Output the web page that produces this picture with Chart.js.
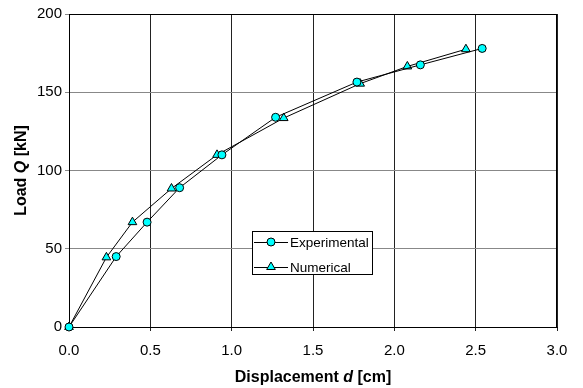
<!DOCTYPE html>
<html>
<head>
<meta charset="utf-8">
<script src="https://cdn.jsdelivr.net/npm/chart.js@4.4.1/dist/chart.umd.min.js"></script>
<style>
  html, body { margin: 0; padding: 0; background: #fff; }
  #wrap { width: 583px; height: 388px; }
</style>
</head>
<body>
<div id="wrap"><canvas id="loadChart"></canvas></div>
<script>
// load-displacement curves (d in cm, Q in kN)
const expDisp = [0, 0.29, 0.48, 0.68, 0.94, 1.27, 1.77, 2.16, 2.54];
const expLoad = [0, 45, 67, 89, 110, 134, 156.5, 167.5, 178];
const numDisp = [0, 0.23, 0.39, 0.63, 0.91, 1.32, 1.79, 2.08, 2.44];
const numLoad = [0, 44.5, 67, 88.5, 110, 133.5, 155.5, 166.5, 177.5];

const xTicks = [0, 0.5, 1.0, 1.5, 2.0, 2.5, 3.0];
const yTicks = [0, 50, 100, 150, 200];

const FONT = '"Liberation Sans", Arial, sans-serif';

function toPoints(xs, ys) {
  return xs.map((x, i) => ({ x: x, y: ys[i] }));
}

function drawParts(ctx, parts, cx, cy) {
  let total = 0;
  parts.forEach(p => { ctx.font = p.f; total += ctx.measureText(p.t).width; });
  let x = cx - total / 2;
  ctx.textAlign = 'left';
  parts.forEach(p => {
    ctx.font = p.f;
    ctx.fillText(p.t, x, cy);
    x += ctx.measureText(p.t).width;
  });
}

// frame behind the series, titles and the boxed legend on top
const decorations = {
  id: 'decorations',
  beforeDatasetsDraw(chart) {
    const ctx = chart.ctx;
    const area = chart.chartArea;
    ctx.save();
    ctx.strokeStyle = '#000';
    ctx.lineWidth = 1;
    ctx.strokeRect(area.left + 0.5, area.top + 0.5, area.right - area.left - 1, area.bottom - area.top);
    ctx.restore();
  },
  afterDraw(chart) {
    const ctx = chart.ctx;
    const area = chart.chartArea;
    ctx.save();

    // x title
    ctx.fillStyle = '#000';
    ctx.textBaseline = 'middle';
    drawParts(ctx, [
      { t: 'Displacement ', f: 'bold 16px ' + FONT },
      { t: 'd', f: 'italic bold 16px ' + FONT },
      { t: ' [cm]', f: 'bold 16px ' + FONT }
    ], (area.left + area.right) / 2, 378);

    // y title
    ctx.save();
    ctx.translate(22, (area.top + area.bottom) / 2);
    ctx.rotate(-Math.PI / 2);
    drawParts(ctx, [
      { t: 'Load ', f: 'bold 16px ' + FONT },
      { t: 'Q', f: 'italic bold 16px ' + FONT },
      { t: ' [kN]', f: 'bold 16px ' + FONT }
    ], 0, 0);
    ctx.restore();

    // legend box
    const bx = area.left + 183, by = area.top + 217, bw = 120, bh = 43;
    ctx.fillStyle = '#fff';
    ctx.fillRect(bx, by, bw, bh);
    ctx.strokeStyle = '#000';
    ctx.lineWidth = 1;
    ctx.strokeRect(bx + 0.5, by + 0.5, bw, bh);
    ctx.font = '13.5px ' + FONT;
    ctx.textAlign = 'left';
    chart.data.datasets.forEach((ds, i) => {
      const ly = by + 11 + i * 25;
      ctx.strokeStyle = '#000';
      ctx.beginPath();
      ctx.moveTo(bx + 2, ly + 0.5);
      ctx.lineTo(bx + 36, ly + 0.5);
      ctx.stroke();
      ctx.fillStyle = ds.pointBackgroundColor;
      ctx.strokeStyle = ds.pointBorderColor;
      Chart.helpers.drawPoint(ctx, {
        pointStyle: ds.pointStyle, radius: ds.pointRadius, rotation: 0, borderWidth: 1
      }, bx + 19, ly);
      ctx.fillStyle = '#000';
      ctx.fillText(ds.label, bx + 38, ly + 1);
    });

    ctx.restore();
  }
};

new Chart(document.getElementById('loadChart'), {
  type: 'line',
  data: {
    datasets: [{
      label: 'Experimental',
      data: toPoints(expDisp, expLoad),
      borderColor: '#000',
      borderWidth: 1,
      pointStyle: 'circle',
      pointRadius: 4,
      pointBackgroundColor: '#00FFFF',
      pointBorderColor: '#000',
      pointBorderWidth: 1,
      fill: false,
      tension: 0,
      clip: false
    }, {
      label: 'Numerical',
      data: toPoints(numDisp, numLoad),
      borderColor: '#000',
      borderWidth: 1,
      pointStyle: 'triangle',
      pointRadius: 5,
      pointBackgroundColor: '#00FFFF',
      pointBorderColor: '#000',
      pointBorderWidth: 1,
      fill: false,
      tension: 0,
      clip: false
    }]
  },
  options: {
    responsive: true,
    maintainAspectRatio: false,
    animation: false,
    layout: { padding: { left: 0, right: 26, top: 14, bottom: 0 } },
    plugins: { legend: { display: false }, tooltip: { enabled: false } },
    scales: {
      x: {
        type: 'linear',
        min: 0, max: 3,
        afterBuildTicks: axis => { axis.ticks = xTicks.map(v => ({ value: v })); },
        afterFit: axis => { axis.height = 61; },
        ticks: {
          color: '#000',
          font: { family: FONT, size: 15 },
          padding: 11,
          maxRotation: 0,
          callback: v => v.toFixed(1)
        },
        grid: { color: '#222', lineWidth: 1, tickLength: 4 },
        border: { color: '#000' }
      },
      y: {
        type: 'linear',
        min: 0, max: 200,
        afterBuildTicks: axis => { axis.ticks = yTicks.map(v => ({ value: v })); },
        afterFit: axis => { axis.width = 69; },
        ticks: {
          color: '#000',
          font: { family: FONT, size: 15 },
          padding: 3
        },
        grid: { color: '#888', lineWidth: 1, tickLength: 4 },
        border: { color: '#000' }
      }
    }
  },
  plugins: [decorations]
});
</script>
</body>
</html>
